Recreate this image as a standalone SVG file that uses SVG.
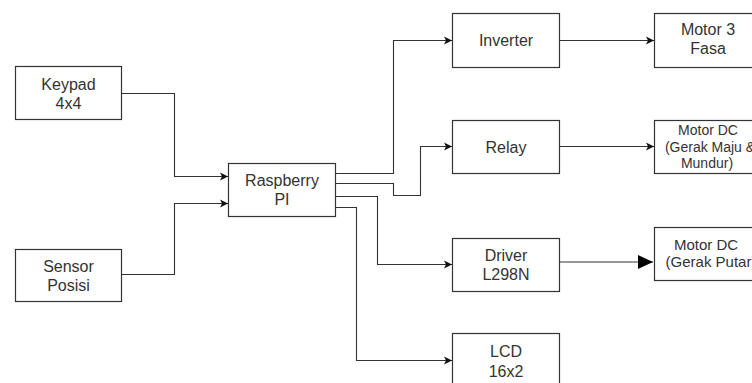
<svg xmlns="http://www.w3.org/2000/svg" width="752" height="383" viewBox="0 0 752 383">
<defs>
<style>
.box{fill:#fff;stroke:#333;stroke-width:1.2}
.t{font-family:"Liberation Sans",Arial,sans-serif;font-size:16px;fill:#333;text-anchor:middle}
.s{font-size:14px}
.m{font-size:15px}
.c{fill:none;stroke:#333;stroke-width:1.1}
</style>
<marker id="a" markerUnits="userSpaceOnUse" markerWidth="10" markerHeight="10" viewBox="0 0 10 10" refX="8" refY="5" orient="auto">
<path d="M0,1 L8,5 L0,9 L2,5 Z" fill="#111"/>
</marker>
<marker id="b" markerUnits="userSpaceOnUse" markerWidth="16" markerHeight="16" viewBox="0 0 16 16" refX="15" refY="8" orient="auto">
<path d="M0,1 L15,8 L0,15 Z" fill="#000"/>
</marker>
</defs>
<rect width="752" height="383" fill="#fff"/>
<g id="connectors">
<path class="c" d="M121.5,93.5 H174.5 V176.5 H228" marker-end="url(#a)"/>
<path class="c" d="M121.5,274.5 H174.5 V203.5 H228" marker-end="url(#a)"/>
<path class="c" d="M335.5,173.5 H393.5 V40.5 H452" marker-end="url(#a)"/>
<path class="c" d="M335.5,183.5 H393.5 V195.5 H420.5 V146.5 H452" marker-end="url(#a)"/>
<path class="c" d="M335.5,196.5 H377.5 V264.5 H452" marker-end="url(#a)"/>
<path class="c" d="M335.5,207.5 H356.5 V360.5 H452" marker-end="url(#a)"/>
<path class="c" d="M559.5,40.5 H654" marker-end="url(#a)"/>
<path class="c" d="M559.5,146.5 H654" marker-end="url(#a)"/>
<path class="c" d="M559.5,262 H653" stroke="#000" marker-end="url(#b)"/>
</g>
<g id="keypad"><rect class="box" x="15.5" y="66.5" width="106" height="53"/><text class="t" x="68.5" y="90">Keypad</text><text class="t" x="68.5" y="109">4x4</text></g>
<g id="sensor"><rect class="box" x="15.5" y="249.5" width="106" height="52"/><text class="t" x="68.5" y="272">Sensor</text><text class="t" x="68.5" y="291">Posisi</text></g>
<g id="rpi"><rect class="box" x="228.5" y="163.5" width="107" height="53"/><text class="t" x="282" y="186">Raspberry</text><text class="t" x="282" y="205">PI</text></g>
<g id="inverter"><rect class="box" x="452.5" y="13.5" width="107" height="54"/><text class="t" x="506" y="46">Inverter</text></g>
<g id="relay"><rect class="box" x="452.5" y="120.5" width="107" height="53"/><text class="t" x="506" y="153">Relay</text></g>
<g id="driver"><rect class="box" x="452.5" y="238.5" width="107" height="53"/><text class="t" x="506" y="261">Driver</text><text class="t" x="506" y="280">L298N</text></g>
<g id="lcd"><rect class="box" x="452.5" y="333.5" width="107" height="54"/><text class="t" x="506" y="357">LCD</text><text class="t" x="506" y="377">16x2</text></g>
<g id="motor3"><rect class="box" x="654.5" y="13.5" width="107" height="54"/><text class="t" x="708" y="35">Motor 3</text><text class="t" x="708" y="54">Fasa</text></g>
<g id="motordc1"><rect class="box" x="654.5" y="120.5" width="107" height="53"/><text class="t s" x="708" y="135">Motor DC</text><text class="t s" x="710" y="152">(Gerak Maju &amp;</text><text class="t s" x="707" y="168">Mundur)</text></g>
<g id="motordc2"><rect class="box" x="654.5" y="227.5" width="107" height="53"/><text class="t m" x="706" y="250">Motor DC</text><text class="t m" x="711" y="267">(Gerak Putar)</text></g>
</svg>
